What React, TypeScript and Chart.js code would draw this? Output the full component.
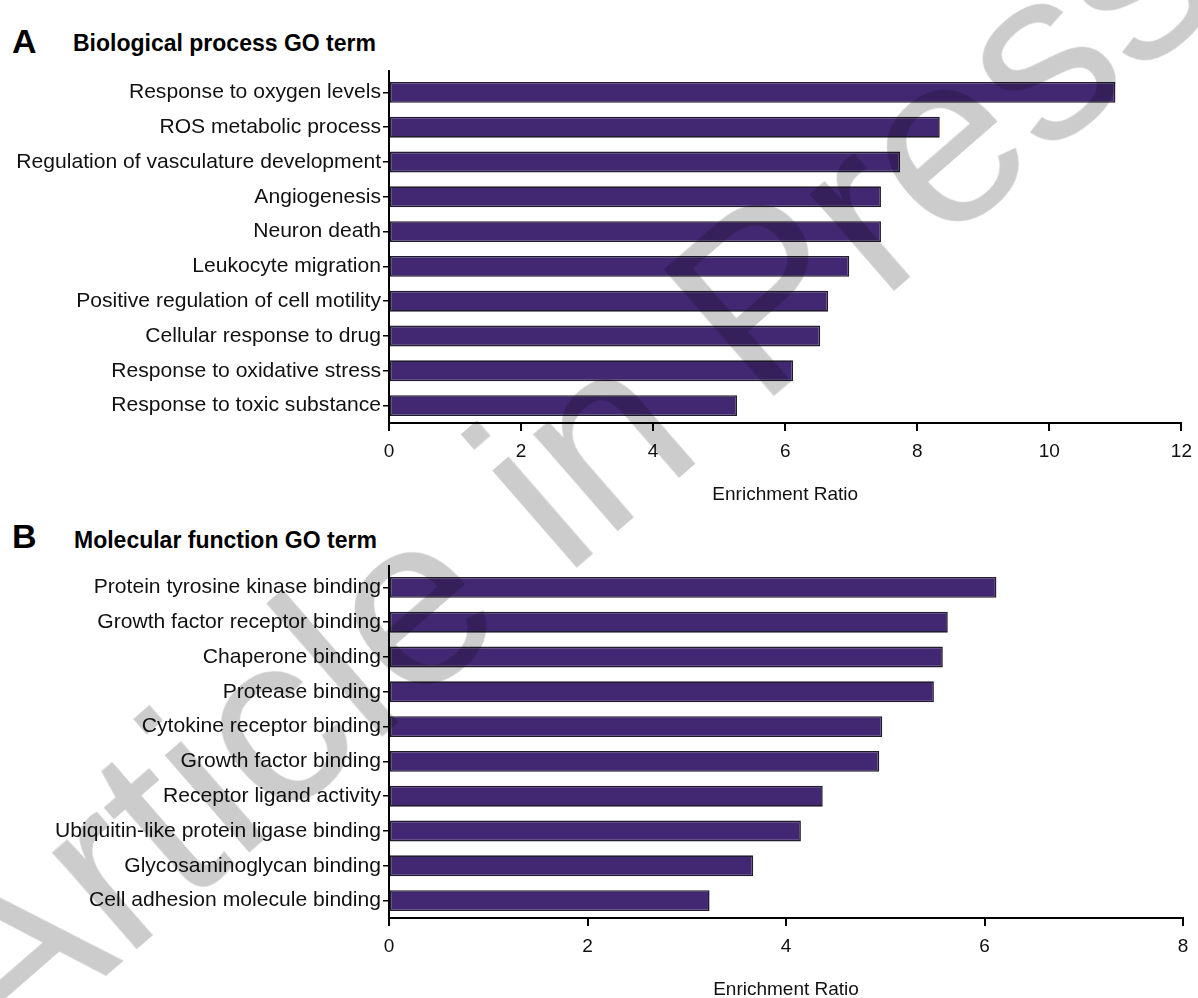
import React, { useEffect, useRef } from "react";
import { Chart, registerables } from "chart.js";

Chart.register(...registerables);

const bpLabels = [
  "Response to oxygen levels",
  "ROS metabolic process",
  "Regulation of vasculature development",
  "Angiogenesis",
  "Neuron death",
  "Leukocyte migration",
  "Positive regulation of cell motility",
  "Cellular response to drug",
  "Response to oxidative stress",
  "Response to toxic substance",
];
const bpValues = [11.0, 8.34, 7.74, 7.45, 7.45, 6.97, 6.65, 6.53, 6.12, 5.27];

const mfLabels = [
  "Protein tyrosine kinase binding",
  "Growth factor receptor binding",
  "Chaperone binding",
  "Protease binding",
  "Cytokine receptor binding",
  "Growth factor binding",
  "Receptor ligand activity",
  "Ubiquitin-like protein ligase binding",
  "Glycosaminoglycan binding",
  "Cell adhesion molecule binding",
];
const mfValues = [6.12, 5.63, 5.58, 5.49, 4.97, 4.94, 4.37, 4.15, 3.67, 3.23];

const bpAxisMax = 12;
const mfAxisMax = 8;
const axisTitle = "Enrichment Ratio";

const FONT = "'Liberation Sans', Arial, Helvetica, sans-serif";
const BAR_FILL = "#422873";
const BAR_EDGE = "#231c2e";

const axisExtension = {
  id: "axisExtension",
  afterDraw(chart: any) {
    const { ctx, chartArea } = chart;
    ctx.save();
    ctx.strokeStyle = "#000";
    ctx.lineWidth = 2;
    ctx.beginPath();
    ctx.moveTo(chartArea.left, chartArea.top - 5);
    ctx.lineTo(chartArea.left, chartArea.top + 1);
    ctx.stroke();
    ctx.restore();
  },
};

function BarPanel(props: { labels: string[]; values: number[]; max: number; top: number; width: number }) {
  const ref = useRef<HTMLCanvasElement | null>(null);
  useEffect(() => {
    if (!ref.current) return;
    const chart = new Chart(ref.current, {
      type: "bar",
      data: {
        labels: props.labels,
        datasets: [
          {
            data: props.values,
            backgroundColor: BAR_FILL,
            borderColor: BAR_EDGE,
            borderWidth: 1.6,
            borderSkipped: false,
            barPercentage: 0.6,
            categoryPercentage: 1,
          },
        ],
      },
      options: {
        indexAxis: "y",
        responsive: false,
        animation: false,
        maintainAspectRatio: false,
        layout: { padding: { top: 15, right: 15, left: 0, bottom: 0 } },
        plugins: { legend: { display: false }, tooltip: { enabled: false } },
        scales: {
          x: {
            type: "linear",
            min: 0,
            max: props.max,
            ticks: {
              stepSize: 2,
              color: "#111",
              padding: 9,
              font: { family: FONT, size: 19 },
            },
            grid: {
              drawOnChartArea: false,
              drawTicks: true,
              tickLength: 8,
              color: "#000",
              lineWidth: 2,
            },
            border: { display: true, color: "#000", width: 2 },
            title: {
              display: true,
              text: axisTitle,
              color: "#111",
              font: { family: FONT, size: 19, lineHeight: 1.2 },
              padding: { top: 0, bottom: 3.6 },
            },
            afterFit: (s: any) => {
              s.height = 87;
            },
          },
          y: {
            type: "category",
            ticks: {
              autoSkip: false,
              color: "#111",
              padding: 2,
              font: { family: FONT, size: 21.1 },
            },
            grid: {
              offset: false,
              drawOnChartArea: false,
              drawTicks: true,
              tickLength: 6,
              color: "#000",
              lineWidth: 1.5,
            },
            border: { display: true, color: "#000", width: 2 },
            afterFit: (s: any) => {
              s.width = 389;
            },
          },
        },
      },
      plugins: [axisExtension],
    } as any);
    return () => chart.destroy();
  }, []);
  return (
    <canvas
      ref={ref}
      width={props.width}
      height={450}
      style={{ position: "absolute", left: 0, top: props.top, width: props.width, height: 450 }}
    />
  );
}

const letterStyle: React.CSSProperties = {
  position: "absolute",
  fontFamily: FONT,
  fontWeight: "bold",
  fontSize: 34,
  lineHeight: 1,
  color: "#000",
  whiteSpace: "nowrap",
};
const titleStyle: React.CSSProperties = {
  position: "absolute",
  fontFamily: FONT,
  fontWeight: "bold",
  fontSize: 23,
  lineHeight: 1,
  color: "#000",
  whiteSpace: "nowrap",
};

export default function App() {
  return (
    <div
      style={{
        position: "fixed",
        left: 0,
        top: 0,
        width: 1198,
        height: 998,
        overflow: "hidden",
        background: "#fff",
      }}
    >
      <div style={{ ...letterStyle, left: 12, top: 23.6 }}>A</div>
      <div style={{ ...titleStyle, left: 73, top: 32 }}>Biological process GO term</div>
      <div style={{ ...letterStyle, left: 12, top: 518.6 }}>B</div>
      <div style={{ ...titleStyle, left: 74, top: 529 }}>Molecular function GO term</div>
      <BarPanel labels={bpLabels} values={bpValues} max={bpAxisMax} top={60} width={1201} />
      <BarPanel labels={mfLabels} values={mfValues} max={mfAxisMax} top={555} width={1198} />
      <div
        style={{
          position: "absolute",
          left: 560,
          top: 470,
          transform: "translate(-50%, -50%) rotate(-41deg)",
          fontFamily: FONT,
          fontSize: 244,
          lineHeight: 1,
          color: "#cccccc",
          whiteSpace: "nowrap",
          mixBlendMode: "multiply",
          pointerEvents: "none",
        }}
      >
        Article in Press
      </div>
    </div>
  );
}
